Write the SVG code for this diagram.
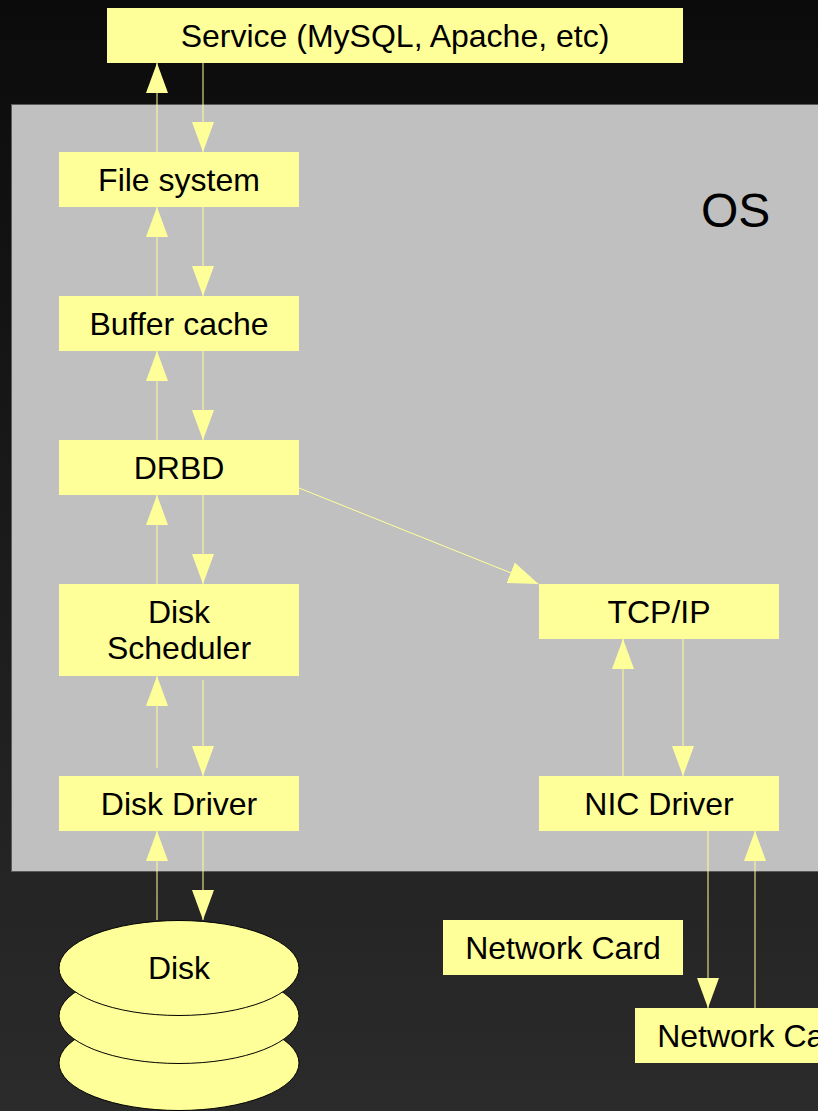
<svg xmlns="http://www.w3.org/2000/svg" width="818" height="1111" viewBox="0 0 818 1111">
  <defs>
    <linearGradient id="bg" x1="0" y1="0" x2="0" y2="1">
      <stop offset="0" stop-color="#0b0b0b"/>
      <stop offset="1" stop-color="#2b2b2b"/>
    </linearGradient>
    <marker id="head" markerUnits="userSpaceOnUse" markerWidth="30" markerHeight="22" refX="30" refY="11" orient="auto">
      <path d="M0,0 L30,11 L0,22 Z" fill="#ffff99"/>
    </marker>
    <style>
      .box { fill: #ffff99; }
      .lbl { font-family: "Liberation Sans", Arial, sans-serif; font-size: 32px; fill: #000; text-anchor: middle; }
      .os { font-family: "Liberation Sans", Arial, sans-serif; font-size: 48px; fill: #000; }
      .conn line { stroke: #ffff99; stroke-width: 1; fill: none; marker-end: url(#head); }
      .disk ellipse { fill: #ffff99; stroke: #000; stroke-width: 1; }
    </style>
  </defs>

  <!-- backdrop -->
  <rect x="0" y="0" width="818" height="1111" fill="url(#bg)"/>

  <!-- operating system region -->
  <g id="os">
    <rect x="11.5" y="104.5" width="820" height="767" fill="#c0c0c0" stroke="#5a5a5a" stroke-width="1"/>
    <text class="os" x="701" y="227">OS</text>
  </g>

  <!-- connectors -->
  <g id="connectors" class="conn">
    <!-- service / file system -->
    <line x1="203" y1="63" x2="203" y2="152"/>
    <line x1="157" y1="152" x2="157" y2="63"/>
    <!-- file system / buffer cache -->
    <line x1="203" y1="207" x2="203" y2="296"/>
    <line x1="157" y1="296" x2="157" y2="207"/>
    <!-- buffer cache / DRBD -->
    <line x1="203" y1="351" x2="203" y2="440"/>
    <line x1="157" y1="440" x2="157" y2="351"/>
    <!-- DRBD / disk scheduler -->
    <line x1="203" y1="495" x2="203" y2="584"/>
    <line x1="157" y1="584" x2="157" y2="495"/>
    <!-- disk scheduler / disk driver -->
    <line x1="203" y1="680" x2="203" y2="776"/>
    <line x1="157" y1="768" x2="157" y2="676"/>
    <!-- disk driver / disk -->
    <line x1="203" y1="831" x2="203" y2="920"/>
    <line x1="157" y1="920" x2="157" y2="831"/>
    <!-- DRBD to TCP/IP -->
    <line x1="299" y1="488" x2="538.5" y2="584"/>
    <!-- TCP/IP / NIC driver -->
    <line x1="683" y1="639" x2="683" y2="776"/>
    <line x1="623" y1="776" x2="623" y2="639"/>
    <!-- NIC driver / network card -->
    <line x1="708" y1="831" x2="708" y2="1008"/>
    <line x1="755" y1="1008" x2="755" y2="831"/>
  </g>

  <!-- nodes -->
  <g id="service">
    <rect class="box" x="107" y="8" width="576" height="55"/>
    <text class="lbl" x="395" y="47">Service (MySQL, Apache, etc)</text>
  </g>
  <g id="file-system">
    <rect class="box" x="59" y="152" width="240" height="55"/>
    <text class="lbl" x="179" y="191">File system</text>
  </g>
  <g id="buffer-cache">
    <rect class="box" x="59" y="296" width="240" height="55"/>
    <text class="lbl" x="179" y="335">Buffer cache</text>
  </g>
  <g id="drbd">
    <rect class="box" x="59" y="440" width="240" height="55"/>
    <text class="lbl" x="179" y="479">DRBD</text>
  </g>
  <g id="disk-scheduler">
    <rect class="box" x="59" y="584" width="240" height="92"/>
    <text class="lbl" x="179" y="623">Disk</text>
    <text class="lbl" x="179" y="659">Scheduler</text>
  </g>
  <g id="disk-driver">
    <rect class="box" x="59" y="776" width="240" height="55"/>
    <text class="lbl" x="179" y="815">Disk Driver</text>
  </g>
  <g id="tcp-ip">
    <rect class="box" x="539" y="584" width="240" height="55"/>
    <text class="lbl" x="659" y="623">TCP/IP</text>
  </g>
  <g id="nic-driver">
    <rect class="box" x="539" y="776" width="240" height="55"/>
    <text class="lbl" x="659" y="815">NIC Driver</text>
  </g>
  <g id="network-card-1">
    <rect class="box" x="443" y="920" width="240" height="55"/>
    <text class="lbl" x="563" y="959">Network Card</text>
  </g>
  <g id="network-card-2">
    <rect class="box" x="635" y="1008" width="240" height="55"/>
    <text class="lbl" x="755" y="1047">Network Card</text>
  </g>
  <g id="disk" class="disk">
    <ellipse cx="179" cy="1063" rx="120" ry="47.5"/>
    <ellipse cx="179" cy="1016" rx="120" ry="47.5"/>
    <ellipse cx="179" cy="968" rx="120" ry="47.5"/>
    <text class="lbl" x="179" y="979">Disk</text>
  </g>
</svg>
